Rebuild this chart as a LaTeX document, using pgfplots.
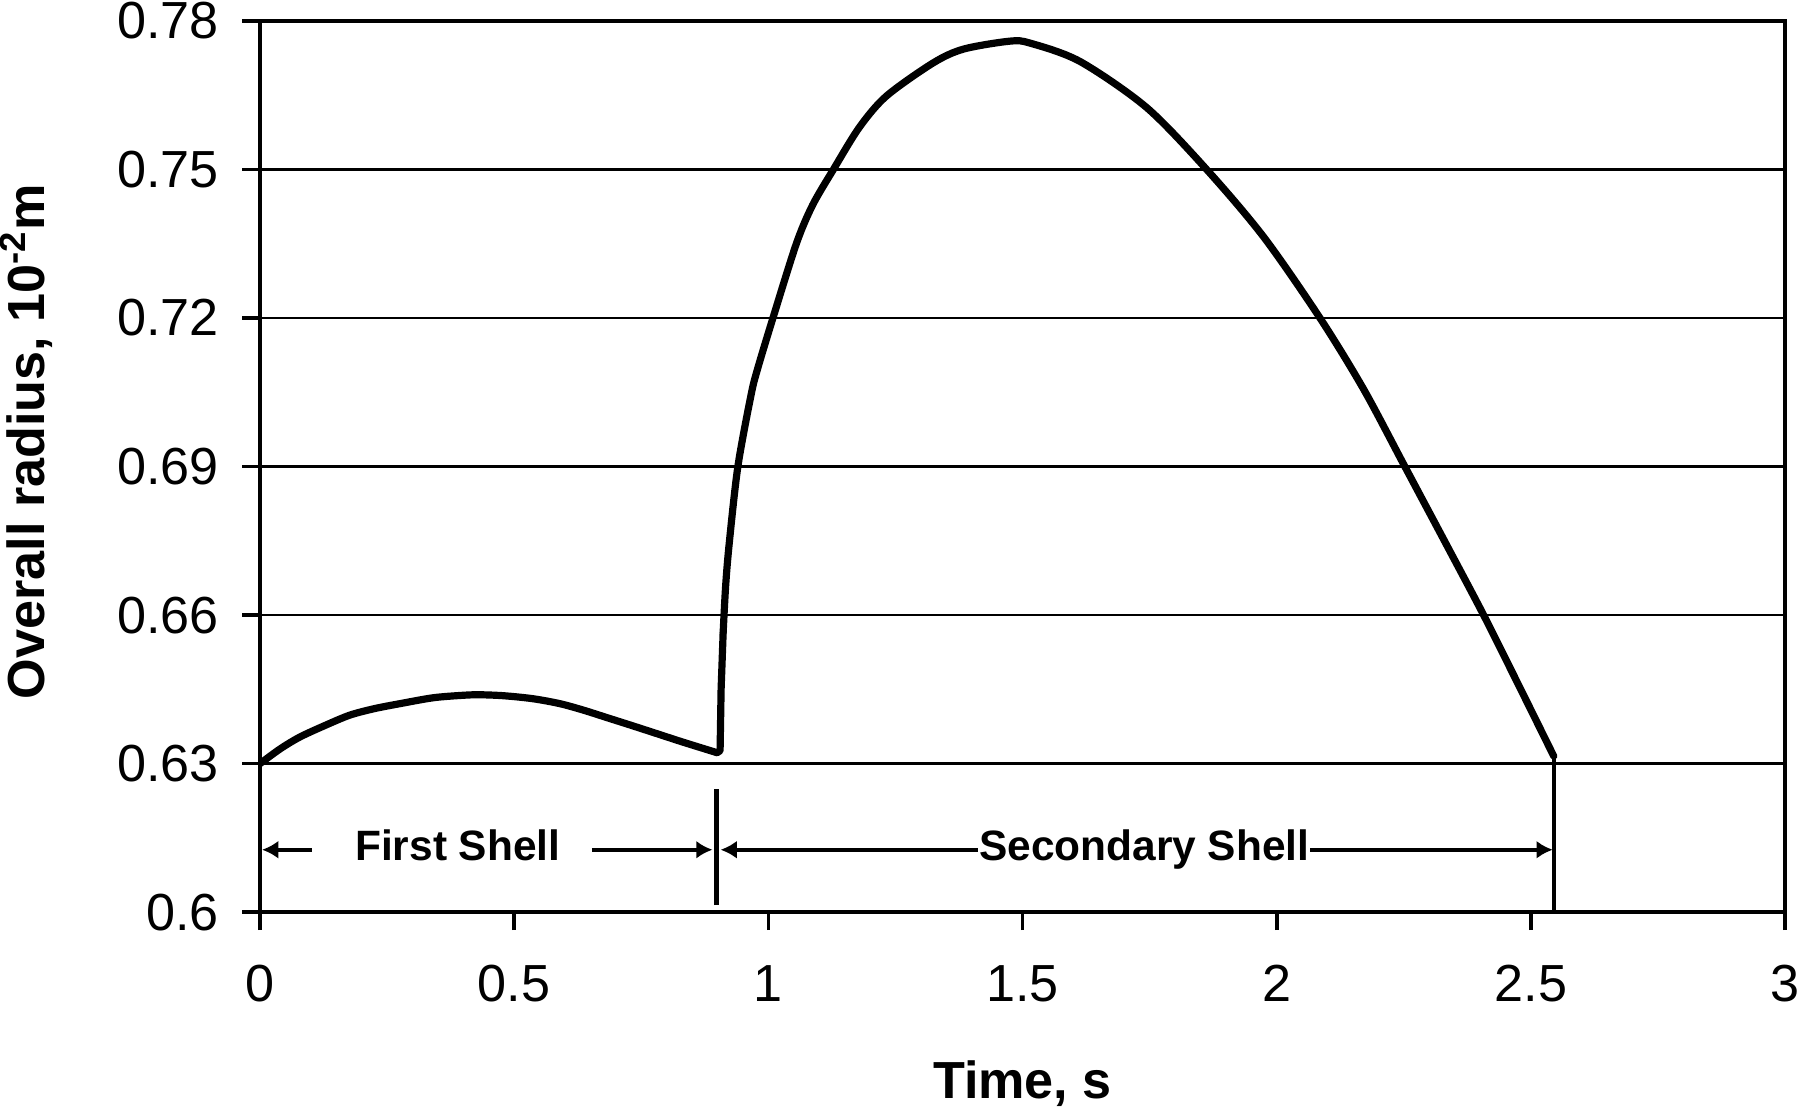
\documentclass[border=0pt]{standalone}
\usepackage{pgfplots}
\pgfplotsset{compat=1.18}
\usepackage{fontspec}
\setmainfont{Liberation Sans}
\usetikzlibrary{arrows.meta}

\begin{document}
\begin{tikzpicture}
\begin{axis}[
  width=424pt, height=247.8pt, scale only axis,
  xmin=0, xmax=3, ymin=0.6, ymax=0.78,
  xtick={0,0.5,1,1.5,2,2.5,3},
  ytick={0.6,0.63,0.66,0.69,0.72,0.75,0.78},
  tick pos=left, tick align=outside, major tick length=5pt,
  ymajorgrids, grid style={black, line width=0.7pt},
  axis line style={black, line width=1.1pt},
  tick style={black, line width=1pt},
  /pgf/number format/assume math mode=true,
  ticklabel style={font=\fontsize{14.5}{17}\selectfont},
  xticklabel style={/pgf/number format/fixed, anchor=base, inner sep=0pt, yshift=-19.8pt},
  yticklabel style={/pgf/number format/fixed, /pgf/number format/precision=2, anchor=east, inner sep=0pt, xshift=-6.3pt},
  xlabel={\textbf{Time, s}},
  xlabel style={at={(axis description cs:0.5,-0.2088)}, anchor=base, inner sep=0pt, font=\fontsize{14.5}{17}\selectfont},
  ylabel={\textbf{Overall radius, 10\textsuperscript{-2}m}},
  ylabel style={at={(axis description cs:-0.1533,0.528)}, anchor=center, inner sep=0pt, font=\fontsize{14.5}{17}\selectfont},
]
\coordinate (SW) at (rel axis cs:0,0);
\coordinate (NE) at (rel axis cs:1,1);

% first shell
\addplot[black, line width=2pt, line cap=round, line join=round, smooth, tension=0.5] coordinates {
(0,0.6300) (0.04,0.6330) (0.079,0.6354) (0.13,0.6378) (0.177,0.6398)
(0.225,0.6411) (0.275,0.6421) (0.341,0.6433) (0.40,0.6438) (0.433,0.6439)
(0.48,0.6437) (0.537,0.6431) (0.59,0.6421) (0.636,0.6408) (0.685,0.6392)
(0.734,0.6376) (0.785,0.6359) (0.833,0.6343) (0.899,0.6322)
};
% jump at the start of the secondary shell
\addplot[black, line width=2pt, line cap=round, line join=round] coordinates {
(0.899,0.6322) (0.905,0.6326) (0.907,0.6450) (0.911,0.6564)
};
% secondary shell
\addplot[black, line width=2pt, line cap=round, line join=round, smooth, tension=0.5] coordinates {
(0.911,0.6564) (0.916,0.6660) (0.923,0.6745) (0.940,0.6900) (0.966,0.7045)
(0.979,0.7098) (1.009,0.7200) (1.055,0.7350) (1.087,0.7428) (1.128,0.7500)
(1.179,0.7585) (1.232,0.7648) (1.324,0.7715) (1.384,0.7743) (1.475,0.7759)
(1.515,0.7755) (1.613,0.7718) (1.744,0.7625) (1.862,0.7500) (1.974,0.7364)
(2.085,0.7200) (2.171,0.7056) (2.252,0.6900) (2.335,0.6740) (2.407,0.6600)
(2.479,0.6452) (2.545,0.6315)
};
\addplot[black, line width=1.1pt] coordinates {(2.545,0.6315) (2.545,0.6000)};

% annotations
\draw[black, line width=1.4pt] (axis cs:0.898,0.6014) -- (axis cs:0.898,0.6249);
\draw[black, line width=1pt, -{Latex[length=4.5pt,width=5pt]}] (axis cs:0.102,0.6126) -- (axis cs:0.004,0.6126);
\draw[black, line width=1pt, -{Latex[length=4.5pt,width=5pt]}] (axis cs:0.653,0.6126) -- (axis cs:0.890,0.6126);
\draw[black, line width=1pt, {Latex[length=4.5pt,width=5pt]}-] (axis cs:0.906,0.6126) -- (axis cs:1.413,0.6126);
\draw[black, line width=1pt, -{Latex[length=4.5pt,width=5pt]}] (axis cs:2.066,0.6126) -- (axis cs:2.543,0.6126);
\node[anchor=base, inner sep=0pt, font=\bfseries\fontsize{11.8}{14}\selectfont] at (axis cs:0.389,0.6104) {First Shell};
\node[anchor=base, inner sep=0pt, font=\bfseries\fontsize{11.8}{14}\selectfont] at (axis cs:1.7395,0.6104) {Secondary Shell};
\end{axis}
\pgfresetboundingbox
\path[use as bounding box] ([xshift=-72.3pt,yshift=-54.8pt]SW) rectangle ([xshift=3.6pt,yshift=5.8pt]NE);
\end{tikzpicture}
\end{document}
